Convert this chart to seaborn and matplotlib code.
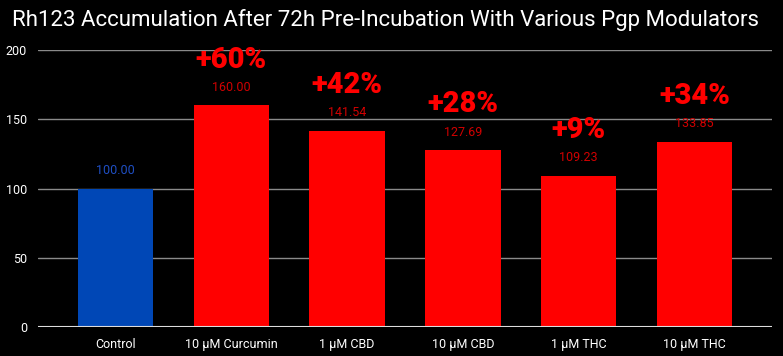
import numpy as np
import pandas as pd
import matplotlib.pyplot as plt
import seaborn as sns


# Rh123 accumulation chart.
conditions = ['Control', '10 µM Curcumin', '1 µM CBD', '10 µM CBD', '1 µM THC', '10 µM THC']
accumulation = [100.00, 160.00, 141.54, 127.69, 109.23, 133.85]
pct_change = ['', '+60%', '+42%', '+28%', '+9%', '+34%']

bar_colors = ['#0047b6', '#ff0000', '#ff0000', '#ff0000', '#ff0000', '#ff0000']
label_colors = ['#1f4fc4', '#d00000', '#d00000', '#d00000', '#d00000', '#d00000']

df = pd.DataFrame({'condition': conditions, 'value': accumulation})

sns.set_style('dark')
plt.rcParams['font.family'] = ['Roboto', 'DejaVu Sans']

fig = plt.figure(figsize=(7.83, 3.56), dpi=100, facecolor='black')
ax = fig.add_axes([38 / 783, 29 / 356, 734 / 783, 277 / 356])
ax.set_facecolor('black')

sns.barplot(data=df, x='condition', y='value', hue='condition',
            palette=bar_colors, width=0.65, legend=False, saturation=1,
            linewidth=0, ax=ax)

ax.set_ylim(0, 200)
ax.set_xlim(-0.67, 5.67)
ax.set_yticks([0, 50, 100, 150, 200])
ax.grid(axis='y', color='#8a8a8a', linewidth=1)
ax.grid(axis='x', visible=False)
ax.set_axisbelow(True)
ax.axhline(0, color='#dddddd', linewidth=1.5)

for s in ax.spines.values():
    s.set_visible(False)

ax.set_xlabel('')
ax.set_ylabel('')
ax.tick_params(axis='both', length=0, colors='white', labelsize=9)
ax.tick_params(axis='x', pad=8)
ax.tick_params(axis='y', pad=8)
for lab in ax.get_xticklabels() + ax.get_yticklabels():
    lab.set_color('white')
    lab.set_stretch('condensed')

# value labels and percent change
for i, v in enumerate(accumulation):
    ax.annotate(f'{v:.2f}', (i, v), xytext=(0, 13), textcoords='offset points',
                ha='center', va='center', fontsize=9, color=label_colors[i])
    if pct_change[i]:
        ax.annotate(pct_change[i], (i, v), xytext=(0, 33), textcoords='offset points',
                    ha='center', va='center', fontsize=21, fontweight='black', color='#ff0000')

fig.text(12 / 783, 1 - 20 / 356, 'Rh123 Accumulation After 72h Pre-Incubation With Various Pgp Modulators',
         color='white', fontsize=16, ha='left', va='center')

fig.savefig('out.png', dpi=100, facecolor='black')
